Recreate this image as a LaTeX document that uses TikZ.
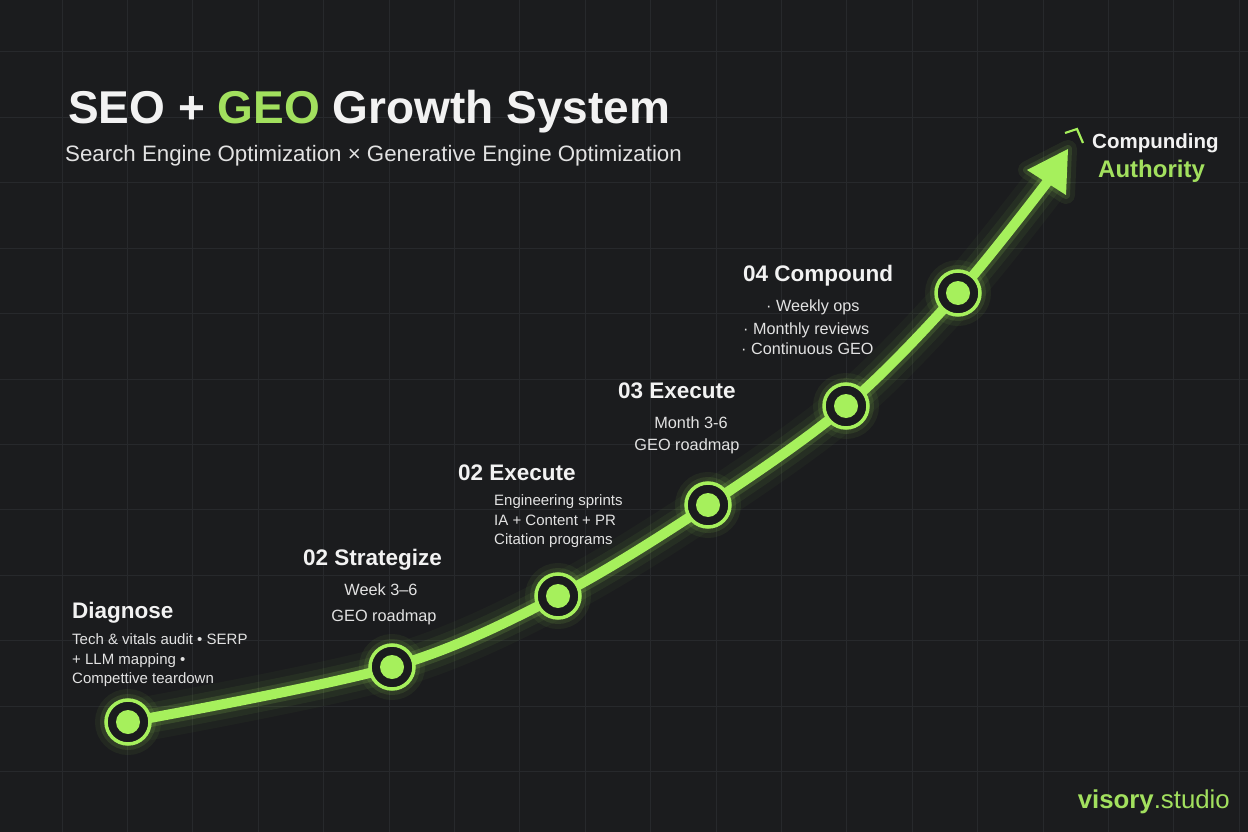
\documentclass[tikz,border=0pt]{standalone}
\usepackage{fontspec}
\setmainfont{Liberation Sans}
\usetikzlibrary{calc}
\definecolor{bg}{HTML}{1B1C1E}
\definecolor{gridc}{HTML}{27292C}
\definecolor{lime}{HTML}{A6F05C}
\definecolor{limetxt}{HTML}{A2E05E}
\definecolor{txt}{HTML}{F2F2F2}
\definecolor{subtxt}{HTML}{E2E2E2}
\newcommand{\fs}[1]{\fontsize{#1}{#1}\selectfont}
\tikzset{
  ring/.style={circle, draw=lime, line width=3.5pt, fill=bg, minimum size=44pt, inner sep=0pt},
  dot/.style={circle, fill=lime, minimum size=24pt, inner sep=0pt},
  head/.style={anchor=base west, inner sep=0pt, text=txt, font=\fs{22.5}\bfseries},
  body/.style={anchor=base west, inner sep=0pt, text=subtxt, font=\fs{15}},
  bodyl/.style={anchor=base west, inner sep=0pt, text=subtxt, font=\fs{16.2}},
  bodyc/.style={anchor=base, inner sep=0pt, text=subtxt, font=\fs{16.3}},
  glowA/.style={line width=44pt, draw=lime, opacity=0.035, line cap=round, line join=round},
  glowB/.style={line width=30pt, draw=lime, opacity=0.06, line cap=round, line join=round},
  glowC/.style={line width=18pt, draw=lime, opacity=0.14, line cap=round, line join=round},
  mainline/.style={line width=10pt, draw=lime, line cap=round, line join=round},
}
\begin{document}
\begin{tikzpicture}[x=1pt,y=-1pt]
\fill[bg] (0,0) rectangle (1248,832);
\useasboundingbox (0,0) rectangle (1248,832);
% grid
\foreach \i in {0,...,18} {\draw[gridc, line width=1pt] ({62+65.4*\i},0) -- ({62+65.4*\i},832);}
\foreach \j in {0,...,12} {\draw[gridc, line width=1pt] (0,{52+65.4*\j}) -- (1248,{52+65.4*\j});}

% coordinates
\coordinate (c0) at (128,722);
\coordinate (c1) at (392,667);
\coordinate (c2) at (558,596);
\coordinate (c3) at (708,505);
\coordinate (c4) at (846,406);
\coordinate (c5) at (958,293);
\coordinate (ab) at (1048,181);
\coordinate (tip) at (1068,149);
\coordinate (wl) at (1027,170);
\coordinate (wr) at (1066,195);

% glow + curve
\foreach \st in {glowA,glowB,glowC,mainline} {
  \draw[\st] plot[smooth, tension=0.55] coordinates {(c0) (c1) (c2) (c3) (c4) (c5) (ab)};
}
% arrowhead
\fill[lime, opacity=0.06] (tip) -- (wl) -- (wr) -- cycle;
\draw[lime, opacity=0.07, line width=18pt, line join=round] (tip) -- (wl) -- (wr) -- cycle;
\draw[lime, opacity=0.12, line width=8pt, line join=round] (tip) -- (wl) -- (wr) -- cycle;
\fill[lime] (tip) -- (wl) -- (wr) -- cycle;
% small bracket mark
\draw[lime, line width=2.2pt] (1065,133) -- (1077,129) -- (1083,143);

% nodes
\foreach \k in {0,...,5} {
  \draw[lime, opacity=0.06, line width=20pt] (c\k) circle (23pt);
  \draw[lime, opacity=0.10, line width=10pt] (c\k) circle (23pt);
  \node[ring] (n\k) at (c\k) {};
  \node[dot] (d\k) at (c\k) {};
}

% title
\node[anchor=base west, inner sep=0pt, text=txt, font=\fs{46}\bfseries] (title) at (68,124)
  {SEO + \textcolor{limetxt}{GEO} Growth System};
\node[anchor=base west, inner sep=0pt, text=subtxt, font=\fs{22.3}] (subtitle) at (65,161)
  {Search Engine Optimization × Generative Engine Optimization};

% labels
\node[head] (h0) at (72,618) {Diagnose};
\node[body] (b0a) at (72,644) {Tech \& vitals audit • SERP};
\node[body] (b0b) at (72,664) {+ LLM mapping •};
\node[body] (b0c) at (72,683) {Compettive teardown};

\node[head] (h1) at (303,565) {02 Strategize};
\node[bodyc] (b1a) at (381,595) {Week 3–6};
\node[bodyc] (b1b) at (384,621) {GEO roadmap};

\node[head] (h2) at (458,480) {02 Execute};
\node[body] (b2a) at (494,505) {Engineering sprints};
\node[body] (b2b) at (494,525) {IA + Content + PR};
\node[body] (b2c) at (494,544) {Citation programs};

\node[head] (h3) at (618,398) {03 Execute};
\node[bodyc] (b3a) at (691,428) {Month 3-6};
\node[bodyc] (b3b) at (687,450) {GEO roadmap};

\node[head] (h4) at (743,281) {04 Compound};
\node[bodyl] (b4a) at (766,311) {· Weekly ops};
\node[bodyl] (b4b) at (743,334) {· Monthly reviews};
\node[bodyl] (b4c) at (741,354) {· Continuous GEO};

\node[anchor=base west, inner sep=0pt, text=txt, font=\fs{20.5}\bfseries] (cmp) at (1092,149) {Compunding};
\node[anchor=base west, inner sep=0pt, text=limetxt, font=\fs{24}\bfseries] (auth) at (1098,178) {Authority};

\node[anchor=base east, inner sep=0pt, text=limetxt, font=\fs{25.8}] (brand) at (1230,808) {\textbf{visory}.studio};
\end{tikzpicture}
\end{document}
